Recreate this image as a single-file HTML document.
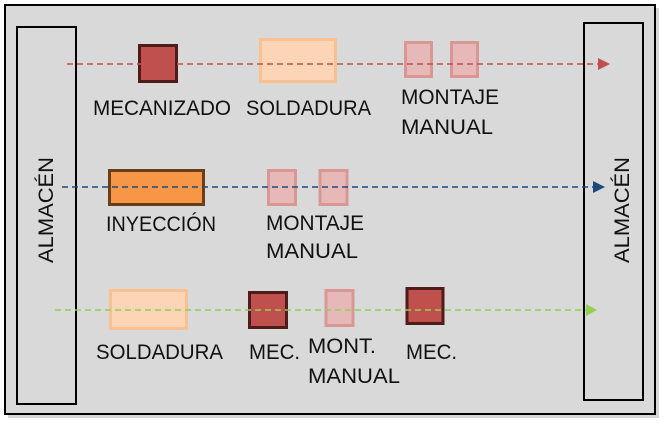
<!DOCTYPE html>
<html><head><style>
html,body{margin:0;padding:0;background:#fff;width:669px;height:429px;overflow:hidden}
text{font-family:"Liberation Sans",sans-serif;font-size:21px;fill:#111}
</style></head><body>
<svg width="669" height="429" xmlns="http://www.w3.org/2000/svg">
<rect x="8" y="8" width="651" height="410" fill="#bbb" opacity="0.6"/>
<rect x="5" y="5" width="650" height="409" fill="#d9d9d9" stroke="#000" stroke-width="2"/>
<rect x="17" y="27" width="59" height="377" fill="none" stroke="#000" stroke-width="2"/>
<rect x="584" y="23" width="59" height="377" fill="none" stroke="#000" stroke-width="2"/>
<text transform="translate(53,210) rotate(-90)" text-anchor="middle" textLength="106" lengthAdjust="spacingAndGlyphs">ALMACÉN</text>
<text transform="translate(629,210) rotate(-90)" text-anchor="middle" textLength="106" lengthAdjust="spacingAndGlyphs">ALMACÉN</text>
<rect x="139.5" y="45.5" width="37" height="36" fill="#c0504d" stroke="#4f1c1c" stroke-width="3"/>
<rect x="260.5" y="39.5" width="75" height="42" fill="#fbd5b5" stroke="#fac090" stroke-width="3"/>
<rect x="405.5" y="42.5" width="26" height="34" fill="#e6b9b8" stroke="#d99694" stroke-width="3"/>
<rect x="451.5" y="42.5" width="26" height="34" fill="#e6b9b8" stroke="#d99694" stroke-width="3"/>
<line x1="67" y1="64" x2="600" y2="64" stroke="#c0504d" stroke-width="1.5" stroke-dasharray="6,4"/>
<polygon points="598,58 610,64 598,70" fill="#c0504d"/>
<text x="93" y="115" textLength="138" lengthAdjust="spacingAndGlyphs">MECANIZADO</text>
<text x="246" y="115" textLength="125" lengthAdjust="spacingAndGlyphs">SOLDADURA</text>
<text x="401" y="104" textLength="98" lengthAdjust="spacingAndGlyphs">MONTAJE</text>
<text x="401" y="134" textLength="92" lengthAdjust="spacingAndGlyphs">MANUAL</text>
<rect x="109.5" y="170.5" width="94" height="34" fill="#f79646" stroke="#6b3e1a" stroke-width="3"/>
<rect x="268.5" y="170.5" width="27" height="34" fill="#e6b9b8" stroke="#d99694" stroke-width="3"/>
<rect x="320" y="170.5" width="27" height="34" fill="#e6b9b8" stroke="#d99694" stroke-width="3"/>
<line x1="62" y1="187" x2="595" y2="187" stroke="#1f497d" stroke-width="1.5" stroke-dasharray="6,4"/>
<polygon points="593,181 605,187 593,193" fill="#1f497d"/>
<text x="106" y="231" textLength="110" lengthAdjust="spacingAndGlyphs">INYECCIÓN</text>
<text x="266" y="230" textLength="98" lengthAdjust="spacingAndGlyphs">MONTAJE</text>
<text x="266" y="258" textLength="92" lengthAdjust="spacingAndGlyphs">MANUAL</text>
<rect x="110.5" y="290.5" width="76" height="38" fill="#fbd5b5" stroke="#fac090" stroke-width="3"/>
<rect x="249.5" y="292.5" width="37" height="35" fill="#c0504d" stroke="#4f1c1c" stroke-width="3"/>
<rect x="326" y="290.5" width="27" height="35" fill="#e6b9b8" stroke="#d99694" stroke-width="3"/>
<rect x="407" y="288.5" width="36" height="35" fill="#c0504d" stroke="#4f1c1c" stroke-width="3"/>
<line x1="55" y1="310" x2="588" y2="310" stroke="#92d050" stroke-width="1.5" stroke-dasharray="6,4"/>
<polygon points="586,304 597,310 586,316" fill="#92d050"/>
<text x="96" y="359" textLength="127" lengthAdjust="spacingAndGlyphs">SOLDADURA</text>
<text x="249" y="359" textLength="51" lengthAdjust="spacingAndGlyphs">MEC.</text>
<text x="308" y="353" textLength="68" lengthAdjust="spacingAndGlyphs">MONT.</text>
<text x="308" y="383" textLength="92" lengthAdjust="spacingAndGlyphs">MANUAL</text>
<text x="406" y="359" textLength="51" lengthAdjust="spacingAndGlyphs">MEC.</text>
</svg>
</body></html>
